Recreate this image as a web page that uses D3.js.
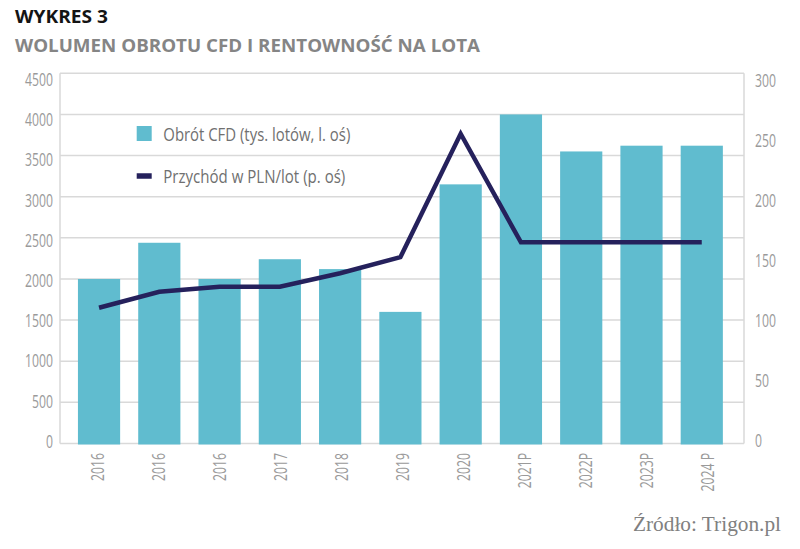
<!DOCTYPE html>
<html><head><meta charset="utf-8">
<script src="https://cdn.jsdelivr.net/npm/d3@7"></script>
<style>
html,body{margin:0;padding:0;background:#fff;}
svg{display:block;}
</style></head>
<body>
<svg id="chart" width="800" height="549"></svg>
<script>
const categories = ["2016","2016","2016","2017","2018","2019","2020","2021P","2022P","2023P","2024 P"];
const volume = [2000, 2440, 2000, 2240, 2120, 1600, 3150, 4000, 3550, 3620, 3620];
const revenue = [110, 123, 127, 127, 138, 151, 251, 163, 163, 163, 163];
const leftTicks = [0,500,1000,1500,2000,2500,3000,3500,4000,4500];
const rightTicks = [0,50,100,150,200,250,300];
const legendLabels = ["Obrót CFD (tys. lotów, l. oś)", "Przychód w PLN/lot (p. oś)"];
const title = "WYKRES 3";
const subtitle = "WOLUMEN OBROTU CFD I RENTOWNOŚĆ NA LOTA";
const source = "Źródło: Trigon.pl";

const svg = d3.select("#chart");
const barColor = "#60bccf", lineColor = "#25215c", gridColor = "#d9d9d9", tickColor = "#9a9a9a";
const plotL = 60, plotR = 744, plotT = 73.3, plotB = 443.5;
const SX = 0.644;

const x = d3.scaleBand().domain(d3.range(categories.length)).range([68.9, 731.9]).paddingInner(0.3).paddingOuter(0.15);
const yL = d3.scaleLinear().domain([0,4500]).range([plotB, plotT]);
const yR = d3.scaleLinear().domain([0,300]).range([plotB, plotT]);
const yLab = d3.scaleLinear().domain([0,4500]).range([440.4, 78.8]);
const yRLab = d3.scaleLinear().domain([0,300]).range([440.2, 79.8]);
const xLab = d3.scalePoint().domain(d3.range(categories.length)).range([96.6, 707]);

// title
svg.append("text").attr("x",15).attr("y",22.7).text(title)
  .attr("font-family","'Open Sans', sans-serif").attr("font-weight",700).attr("font-size",17.8)
  .attr("fill","#141414").attr("textLength",93).attr("lengthAdjust","spacingAndGlyphs");
svg.append("text").attr("x",15).attr("y",51.7).text(subtitle)
  .attr("font-family","'Open Sans', sans-serif").attr("font-weight",700).attr("font-size",18.6)
  .attr("fill","#858585").attr("textLength",465).attr("lengthAdjust","spacingAndGlyphs");

// gridlines
svg.append("g").selectAll("line").data(leftTicks).join("line")
  .attr("x1",plotL).attr("x2",plotR).attr("y1",d=>yL(d)).attr("y2",d=>yL(d))
  .attr("stroke",gridColor).attr("stroke-width",1.5);
svg.append("line").attr("x1",plotL).attr("x2",plotL).attr("y1",plotT).attr("y2",plotB).attr("stroke",gridColor).attr("stroke-width",1.5);
svg.append("line").attr("x1",plotR).attr("x2",plotR).attr("y1",plotT).attr("y2",plotB).attr("stroke",gridColor).attr("stroke-width",1.5);

// bars
svg.append("g").selectAll("rect").data(volume).join("rect")
  .attr("x",(d,i)=>x(i)).attr("width",x.bandwidth())
  .attr("y",d=>yL(d)).attr("height",d=>yL(0)-yL(d)+1).attr("fill",barColor);

// line
const line = d3.line().x((d,i)=>x(i)+x.bandwidth()/2).y(d=>yR(d));
svg.append("path").datum(revenue).attr("d",line).attr("fill","none")
  .attr("stroke",lineColor).attr("stroke-width",4.5).attr("stroke-linejoin","miter");

// axes
function styleTicks(g){
  g.select(".domain").remove();
  g.selectAll("text").attr("font-family","'Open Sans', sans-serif").attr("font-size",19).attr("fill",tickColor);
}
const axL = svg.append("g").attr("transform","translate(53,0)")
  .call(d3.axisLeft(yLab).tickValues(leftTicks).tickSize(0).tickPadding(0).tickFormat(d3.format("d")));
styleTicks(axL);
axL.selectAll("text").attr("x",0).attr("dy","0.357em").attr("transform",`scale(${SX},1)`).attr("text-anchor","end");

const axR = svg.append("g").attr("transform","translate(755,0)")
  .call(d3.axisRight(yRLab).tickValues(rightTicks).tickSize(0).tickPadding(0).tickFormat(d3.format("d")));
styleTicks(axR);
axR.selectAll("text").attr("x",0).attr("dy","0.357em").attr("transform",`scale(${SX},1)`).attr("text-anchor","start");

const axB = svg.append("g").attr("transform","translate(0,453)")
  .call(d3.axisBottom(xLab).tickSize(0).tickPadding(0).tickFormat(i=>categories[i]));
styleTicks(axB);
axB.selectAll("text").attr("x",0).attr("y",0).attr("dy","0.357em").attr("text-anchor","end")
  .attr("transform",`rotate(-90) scale(${SX},1)`);

// legend
const lg = svg.append("g");
lg.append("rect").attr("x",136.7).attr("y",126).attr("width",15).attr("height",15).attr("fill",barColor);
lg.append("line").attr("x1",136.7).attr("x2",151.7).attr("y1",176).attr("y2",176).attr("stroke",lineColor).attr("stroke-width",5.5);
lg.append("text").attr("x",163.3).attr("y",140.7).text(legendLabels[0])
  .attr("font-family","'Open Sans', sans-serif").attr("font-size",19).attr("fill","#707070")
  .attr("textLength",187).attr("lengthAdjust","spacingAndGlyphs");
lg.append("text").attr("x",163.3).attr("y",183.3).text(legendLabels[1])
  .attr("font-family","'Open Sans', sans-serif").attr("font-size",19).attr("fill","#707070")
  .attr("textLength",182).attr("lengthAdjust","spacingAndGlyphs");

// source
svg.append("text").attr("x",633).attr("y",530.7).text(source)
  .attr("font-family","'Liberation Serif', 'Times New Roman', serif").attr("font-size",22).attr("fill","#808080")
  .attr("textLength",148).attr("lengthAdjust","spacingAndGlyphs");
</script>
</body></html>
